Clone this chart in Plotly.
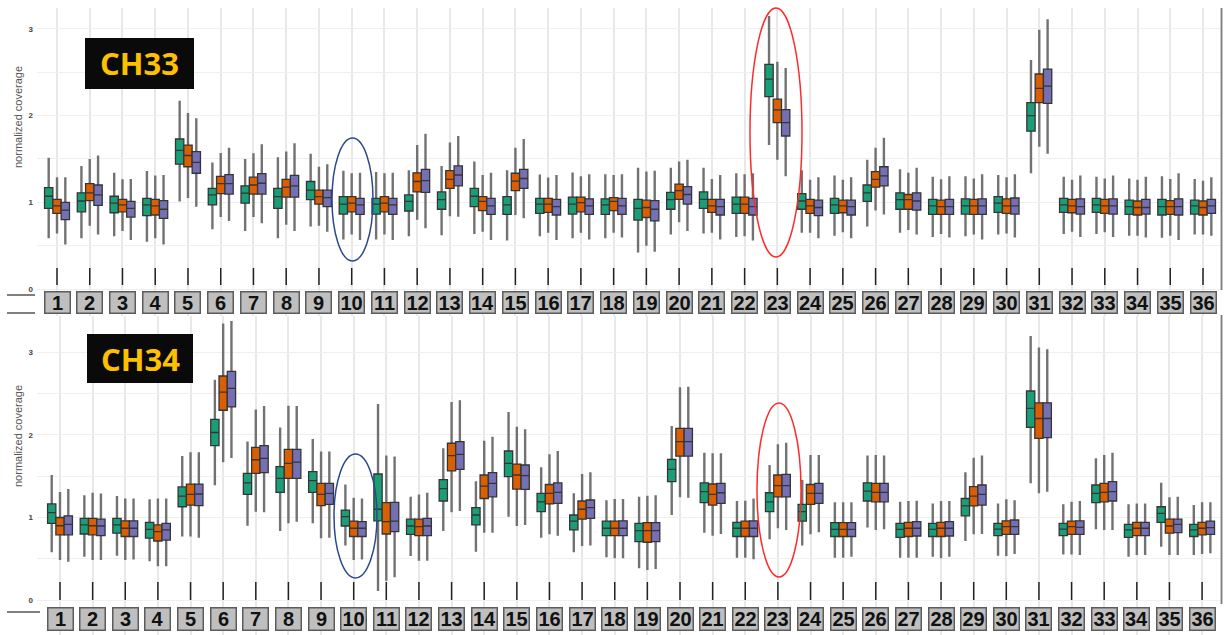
import plotly.graph_objects as go

# ---------------------------------------------------------------------------
# Data: normalized coverage per group (lower whisker, Q1, median, Q3, upper whisker)
# ---------------------------------------------------------------------------
groups = list(range(1, 37))
group_labels = [str(g) for g in groups]

series_colors = {"green": "#1b9e77", "orange": "#d95f02", "purple": "#7570b3"}

# ---- CH33 ----
ch33_green_lo = [0.585, 0.585, 0.61, 0.546, 1.01, 0.69, 0.67, 0.585, 0.72, 0.57, 0.57, 0.61, 0.62, 0.635, 0.56, 0.61, 0.585, 0.585, 0.42, 0.63, 0.64, 0.60, 1.66, 0.65, 0.615, 0.72, 0.65, 0.60, 0.61, 0.63, 1.335, 0.635, 0.635, 0.615, 0.59, 0.63]
ch33_green_q1 = [0.93, 0.89, 0.88, 0.846, 1.44, 0.97, 0.99, 0.93, 1.03, 0.865, 0.865, 0.90, 0.92, 0.95, 0.86, 0.873, 0.865, 0.86, 0.795, 0.92, 0.93, 0.873, 2.22, 0.92, 0.873, 1.01, 0.92, 0.86, 0.865, 0.885, 1.82, 0.885, 0.885, 0.86, 0.854, 0.865]
ch33_green_med = [1.07, 1.015, 0.99, 0.97, 1.60, 1.085, 1.105, 1.065, 1.14, 0.98, 0.98, 1.01, 1.03, 1.07, 0.97, 0.98, 0.98, 0.97, 0.93, 1.03, 1.035, 0.98, 2.42, 1.015, 0.97, 1.11, 1.03, 0.96, 0.96, 0.99, 2.0, 0.97, 0.97, 0.95, 0.95, 0.96]
ch33_green_q3 = [1.17, 1.11, 1.07, 1.045, 1.73, 1.16, 1.19, 1.16, 1.24, 1.065, 1.045, 1.085, 1.12, 1.16, 1.065, 1.045, 1.06, 1.04, 1.035, 1.115, 1.12, 1.06, 2.59, 1.10, 1.045, 1.20, 1.11, 1.035, 1.04, 1.065, 2.15, 1.045, 1.045, 1.025, 1.035, 1.025]
ch33_green_hi = [1.515, 1.42, 1.34, 1.36, 2.17, 1.46, 1.50, 1.52, 1.56, 1.365, 1.35, 1.37, 1.42, 1.47, 1.37, 1.32, 1.345, 1.325, 1.40, 1.40, 1.40, 1.335, 3.15, 1.37, 1.31, 1.49, 1.38, 1.295, 1.30, 1.315, 2.64, 1.295, 1.295, 1.275, 1.30, 1.27]

ch33_orange_lo = [0.64, 0.73, 0.67, 0.585, 1.05, 0.83, 0.83, 0.74, 0.73, 0.63, 0.63, 0.80, 0.84, 0.66, 0.855, 0.65, 0.65, 0.65, 0.50, 0.77, 0.65, 0.61, 1.49, 0.65, 0.655, 0.905, 0.68, 0.635, 0.63, 0.64, 1.64, 0.66, 0.655, 0.615, 0.615, 0.63]
ch33_orange_q1 = [0.873, 1.02, 0.89, 0.854, 1.41, 1.10, 1.095, 1.06, 0.98, 0.89, 0.89, 1.12, 1.16, 0.905, 1.135, 0.885, 0.89, 0.905, 0.825, 1.035, 0.885, 0.873, 1.92, 0.873, 0.88, 1.175, 0.92, 0.86, 0.86, 0.873, 2.15, 0.88, 0.873, 0.854, 0.86, 0.854]
ch33_orange_med = [0.96, 1.11, 0.97, 0.96, 1.54, 1.215, 1.20, 1.175, 1.065, 0.99, 0.99, 1.24, 1.265, 1.01, 1.245, 0.98, 0.996, 1.01, 0.94, 1.135, 0.96, 0.98, 2.065, 0.96, 0.96, 1.265, 1.03, 0.95, 0.96, 0.96, 2.315, 0.96, 0.96, 0.94, 0.95, 0.94]
ch33_orange_q3 = [1.035, 1.215, 1.035, 1.035, 1.66, 1.30, 1.29, 1.265, 1.14, 1.065, 1.065, 1.34, 1.365, 1.065, 1.335, 1.045, 1.06, 1.055, 1.025, 1.21, 1.035, 1.06, 2.19, 1.035, 1.025, 1.355, 1.09, 1.025, 1.035, 1.04, 2.48, 1.035, 1.035, 1.015, 1.02, 1.015]
ch33_orange_hi = [1.29, 1.50, 1.265, 1.31, 2.03, 1.57, 1.565, 1.585, 1.41, 1.335, 1.335, 1.66, 1.69, 1.315, 1.63, 1.285, 1.30, 1.315, 1.355, 1.47, 1.27, 1.325, 2.62, 1.26, 1.26, 1.63, 1.34, 1.265, 1.275, 1.29, 2.99, 1.26, 1.275, 1.26, 1.27, 1.25]

ch33_purple_lo = [0.515, 0.63, 0.565, 0.515, 0.95, 0.785, 0.76, 0.67, 0.66, 0.565, 0.565, 0.70, 0.835, 0.565, 0.815, 0.565, 0.57, 0.595, 0.43, 0.67, 0.57, 0.56, 1.30, 0.585, 0.585, 0.86, 0.63, 0.595, 0.57, 0.595, 1.56, 0.60, 0.60, 0.595, 0.565, 0.615]
ch33_purple_q1 = [0.80, 0.965, 0.83, 0.815, 1.335, 1.095, 1.095, 1.06, 0.95, 0.86, 0.86, 1.115, 1.19, 0.86, 1.16, 0.854, 0.86, 0.86, 0.785, 0.98, 0.854, 0.854, 1.765, 0.846, 0.854, 1.19, 0.91, 0.86, 0.86, 0.865, 2.14, 0.865, 0.865, 0.865, 0.854, 0.873]
ch33_purple_med = [0.91, 1.085, 0.93, 0.92, 1.46, 1.215, 1.22, 1.19, 1.055, 0.97, 0.97, 1.25, 1.315, 0.96, 1.275, 0.95, 0.96, 0.96, 0.92, 1.09, 0.95, 0.95, 1.92, 0.94, 0.95, 1.305, 1.015, 0.95, 0.96, 0.96, 2.34, 0.95, 0.96, 0.94, 0.95, 0.96]
ch33_purple_q3 = [1.0, 1.20, 1.01, 1.02, 1.585, 1.32, 1.33, 1.31, 1.14, 1.045, 1.045, 1.38, 1.42, 1.045, 1.38, 1.035, 1.04, 1.045, 1.02, 1.18, 1.035, 1.045, 2.07, 1.025, 1.025, 1.41, 1.11, 1.035, 1.04, 1.05, 2.535, 1.04, 1.04, 1.035, 1.04, 1.035]
ch33_purple_hi = [1.29, 1.54, 1.27, 1.315, 1.97, 1.63, 1.67, 1.68, 1.44, 1.34, 1.34, 1.79, 1.765, 1.34, 1.73, 1.315, 1.325, 1.325, 1.365, 1.49, 1.315, 1.335, 2.55, 1.29, 1.29, 1.745, 1.40, 1.30, 1.325, 1.325, 3.11, 1.31, 1.31, 1.295, 1.335, 1.29]

# ---- CH34 ----
ch34_green_lo = [0.58, 0.525, 0.537, 0.47, 0.77, 1.39, 0.90, 0.836, 0.93, 0.66, 0.11, 0.533, 0.836, 0.586, 1.01, 0.755, 0.578, 0.517, 0.384, 1.03, 0.816, 0.513, 0.735, 0.66, 0.513, 0.88, 0.513, 0.525, 0.715, 0.537, 1.414, 0.553, 0.857, 0.525, 0.646, 0.545]
ch34_green_q1 = [0.93, 0.80, 0.81, 0.75, 1.13, 1.87, 1.28, 1.305, 1.305, 0.897, 0.96, 0.796, 1.20, 0.91, 1.495, 1.07, 0.85, 0.78, 0.707, 1.434, 1.18, 0.77, 1.07, 0.957, 0.77, 1.20, 0.76, 0.77, 1.02, 0.78, 2.093, 0.78, 1.18, 0.76, 0.94, 0.77]
ch34_green_med = [1.06, 0.91, 0.91, 0.857, 1.26, 2.03, 1.42, 1.475, 1.446, 1.01, 1.10, 0.897, 1.35, 1.03, 1.657, 1.19, 0.957, 0.87, 0.84, 1.584, 1.313, 0.87, 1.19, 1.07, 0.857, 1.32, 0.857, 0.857, 1.14, 0.86, 2.323, 0.86, 1.293, 0.85, 1.05, 0.85]
ch34_green_q3 = [1.165, 0.99, 0.99, 0.94, 1.37, 2.19, 1.535, 1.616, 1.555, 1.09, 1.527, 0.98, 1.46, 1.12, 1.806, 1.293, 1.03, 0.957, 0.93, 1.705, 1.42, 0.94, 1.30, 1.16, 0.937, 1.42, 0.93, 0.93, 1.23, 0.93, 2.533, 0.93, 1.394, 0.917, 1.13, 0.917]
ch34_green_hi = [1.515, 1.27, 1.26, 1.22, 1.745, 2.67, 1.92, 2.09, 1.95, 1.40, 2.376, 1.25, 1.84, 1.44, 2.28, 1.61, 1.293, 1.21, 1.25, 2.11, 1.786, 1.20, 1.636, 1.455, 1.184, 1.75, 1.19, 1.17, 1.547, 1.17, 3.20, 1.16, 1.717, 1.16, 1.42, 1.15]

ch34_orange_lo = [0.485, 0.485, 0.485, 0.41, 0.77, 1.67, 1.07, 0.93, 0.75, 0.485, 0.234, 0.477, 1.063, 0.816, 0.897, 0.796, 0.655, 0.505, 0.364, 1.244, 0.78, 0.513, 0.87, 0.796, 0.513, 0.85, 0.513, 0.505, 0.796, 0.533, 1.293, 0.553, 0.85, 0.545, 0.545, 0.557]
ch34_orange_q1 = [0.79, 0.79, 0.77, 0.715, 1.15, 2.30, 1.535, 1.475, 1.143, 0.77, 0.80, 0.78, 1.564, 1.23, 1.345, 1.164, 0.98, 0.78, 0.70, 1.745, 1.15, 0.77, 1.25, 1.16, 0.77, 1.19, 0.77, 0.77, 1.14, 0.796, 1.96, 0.796, 1.19, 0.78, 0.81, 0.79]
ch34_orange_med = [0.90, 0.90, 0.87, 0.83, 1.28, 2.52, 1.70, 1.657, 1.28, 0.87, 0.95, 0.89, 1.75, 1.38, 1.515, 1.293, 1.10, 0.87, 0.84, 1.92, 1.28, 0.87, 1.386, 1.293, 0.857, 1.305, 0.87, 0.87, 1.26, 0.89, 2.20, 0.89, 1.305, 0.87, 0.897, 0.87]
ch34_orange_q3 = [1.0, 0.99, 0.96, 0.91, 1.405, 2.715, 1.85, 1.826, 1.414, 0.957, 1.18, 0.98, 1.90, 1.515, 1.648, 1.40, 1.20, 0.957, 0.937, 2.08, 1.406, 0.957, 1.515, 1.40, 0.937, 1.414, 0.94, 0.94, 1.374, 0.96, 2.39, 0.957, 1.414, 0.94, 0.98, 0.94]
ch34_orange_hi = [1.31, 1.30, 1.23, 1.23, 1.79, 3.35, 2.31, 2.355, 1.80, 1.24, 1.75, 1.28, 2.40, 1.93, 2.10, 1.766, 1.527, 1.224, 1.265, 2.58, 1.778, 1.204, 1.887, 1.757, 1.184, 1.757, 1.20, 1.20, 1.725, 1.22, 3.06, 1.19, 1.757, 1.17, 1.244, 1.184]

ch34_purple_lo = [0.465, 0.485, 0.49, 0.41, 0.755, 1.72, 1.063, 0.95, 0.755, 0.49, 0.275, 0.477, 1.08, 0.816, 0.91, 0.78, 0.66, 0.505, 0.376, 1.24, 0.80, 0.493, 0.85, 0.82, 0.525, 0.857, 0.513, 0.525, 0.80, 0.557, 1.313, 0.545, 0.85, 0.545, 0.545, 0.566]
ch34_purple_q1 = [0.79, 0.78, 0.77, 0.727, 1.143, 2.34, 1.543, 1.475, 1.16, 0.77, 0.83, 0.78, 1.584, 1.25, 1.34, 1.17, 0.99, 0.78, 0.707, 1.745, 1.17, 0.77, 1.25, 1.17, 0.77, 1.19, 0.776, 0.776, 1.15, 0.796, 1.968, 0.796, 1.20, 0.78, 0.816, 0.796]
ch34_purple_med = [0.917, 0.897, 0.87, 0.85, 1.285, 2.565, 1.717, 1.67, 1.293, 0.87, 0.957, 0.897, 1.766, 1.414, 1.507, 1.305, 1.12, 0.87, 0.84, 1.92, 1.30, 0.87, 1.386, 1.293, 0.857, 1.305, 0.87, 0.87, 1.28, 0.89, 2.20, 0.88, 1.313, 0.87, 0.917, 0.877]
ch34_purple_q3 = [1.02, 0.98, 0.96, 0.93, 1.405, 2.77, 1.87, 1.826, 1.414, 0.95, 1.184, 0.99, 1.92, 1.543, 1.636, 1.42, 1.212, 0.96, 0.937, 2.08, 1.414, 0.96, 1.523, 1.414, 0.937, 1.414, 0.95, 0.95, 1.394, 0.97, 2.39, 0.96, 1.434, 0.94, 0.98, 0.957]
ch34_purple_hi = [1.345, 1.29, 1.23, 1.23, 1.79, 3.38, 2.35, 2.35, 1.80, 1.23, 1.74, 1.30, 2.42, 1.98, 2.07, 1.806, 1.547, 1.224, 1.27, 2.586, 1.778, 1.23, 1.907, 1.757, 1.184, 1.75, 1.204, 1.20, 1.75, 1.21, 3.04, 1.20, 1.786, 1.17, 1.25, 1.184]

panels = [
    {
        "name": "CH33",
        "series": {
            "green": (ch33_green_lo, ch33_green_q1, ch33_green_med, ch33_green_q3, ch33_green_hi),
            "orange": (ch33_orange_lo, ch33_orange_q1, ch33_orange_med, ch33_orange_q3, ch33_orange_hi),
            "purple": (ch33_purple_lo, ch33_purple_q1, ch33_purple_med, ch33_purple_q3, ch33_purple_hi),
        },
    },
    {
        "name": "CH34",
        "series": {
            "green": (ch34_green_lo, ch34_green_q1, ch34_green_med, ch34_green_q3, ch34_green_hi),
            "orange": (ch34_orange_lo, ch34_orange_q1, ch34_orange_med, ch34_orange_q3, ch34_orange_hi),
            "purple": (ch34_purple_lo, ch34_purple_q1, ch34_purple_med, ch34_purple_q3, ch34_purple_hi),
        },
    },
]

# ---------------------------------------------------------------------------
# Layout geometry (pixels of the 1227 x 635 canvas)
# ---------------------------------------------------------------------------
W, H = 1227, 635


def fx(px):
    return px / W


def fy(py):
    return 1 - py / H


geom = [
    # top panel
    dict(xa="x", ya="y", xrange=[0.389, 36.58], yrange=[-0.311, 3.241],
         ydom=[fy(316), fy(8)], tick_y=(268, 285), lab_y=302.5, lab_h=20, lab_w=24,
         title_y=117, ch_box=(85, 38, 194, 89),
         blue=(332, 138, 373, 261), red=(750, 8, 802, 257)),
    # bottom panel
    dict(xa="x2", ya="y2", xrange=[0.295, 36.61], yrange=[-0.424, 3.442],
         ydom=[0, fy(316)], tick_y=(582, 600), lab_y=619, lab_h=21, lab_w=24,
         title_y=436, ch_box=(87, 334, 193, 383),
         blue=(334, 454, 377, 578), red=(757, 403, 801, 577)),
]

BOX_W = 0.254
offsets = {"green": -BOX_W, "orange": 0.0, "purple": BOX_W}

fig = go.Figure()

for panel, g in zip(panels, geom):
    # whiskers first (gray, drawn under the boxes)
    for sname, (lo, q1, med, q3, hi) in panel["series"].items():
        xs = [grp + offsets[sname] for grp in groups]
        fig.add_trace(go.Box(
            x=xs, q1=med, median=med, q3=med, lowerfence=lo, upperfence=hi,
            width=0.02, whiskerwidth=0, boxpoints=False,
            line=dict(color="#727272", width=2.4), fillcolor="rgba(0,0,0,0)",
            xaxis=g["xa"], yaxis=g["ya"], showlegend=False, hoverinfo="skip",
        ))
    # boxes with median line
    for sname, (lo, q1, med, q3, hi) in panel["series"].items():
        xs = [grp + offsets[sname] for grp in groups]
        fig.add_trace(go.Box(
            x=xs, q1=q1, median=med, q3=q3, lowerfence=q1, upperfence=q3,
            width=BOX_W, whiskerwidth=0, boxpoints=False,
            line=dict(color="#353535", width=1.3), fillcolor=series_colors[sname],
            xaxis=g["xa"], yaxis=g["ya"], showlegend=False, name=sname,
        ))

shapes = []
annotations = []

for panel, g in zip(panels, geom):
    # small tick marks above the group labels
    for grp in groups:
        shapes.append(dict(type="line", xref=g["xa"], yref="paper",
                           x0=grp, x1=grp, y0=fy(g["tick_y"][0]), y1=fy(g["tick_y"][1]),
                           line=dict(color="#222222", width=1.5), layer="above"))
        annotations.append(dict(
            xref=g["xa"], yref="paper", x=grp, y=fy(g["lab_y"]),
            text=str(grp), showarrow=False,
            font=dict(family="Liberation Sans, Arial, sans-serif", size=20,
                      color="#111111", weight="bold"),
            bgcolor="#bfbfbf", bordercolor="#5c5c5c", borderwidth=1.5, borderpad=0,
            width=g["lab_w"], height=g["lab_h"], xanchor="center", yanchor="middle",
        ))
    # panel name badge
    x0, y0, x1, y1 = g["ch_box"]
    shapes.append(dict(type="rect", xref="paper", yref="paper",
                       x0=fx(x0), x1=fx(x1), y0=fy(y1), y1=fy(y0),
                       fillcolor="#0a0a0a", line=dict(width=0), layer="above"))
    annotations.append(dict(
        xref="paper", yref="paper", x=fx((x0 + x1) / 2), y=fy((y0 + y1) / 2),
        text=panel["name"], showarrow=False, xanchor="center", yanchor="middle",
        font=dict(family="Open Sans, sans-serif", size=31, color="#ffc000", weight="bold"),
    ))
    # y-axis title
    annotations.append(dict(
        xref="paper", yref="paper", x=fx(18), y=fy(g["title_y"]),
        text="normalized coverage", showarrow=False, textangle=-90,
        xanchor="center", yanchor="middle",
        font=dict(family="Liberation Sans Narrow, Liberation Sans, Arial, sans-serif",
                  size=11, color="#555555"),
    ))
    # highlight ellipses
    for key, col in (("blue", "#2b4a8b"), ("red", "#ff2a2a")):
        ex0, ey0, ex1, ey1 = g[key]
        shapes.append(dict(type="circle", xref="paper", yref="paper",
                           x0=fx(ex0), x1=fx(ex1), y0=fy(ey1), y1=fy(ey0),
                           line=dict(color=col, width=1.5), layer="above"))

# left-side rule fragments and right-hand frame lines
for (lx0, lx1, ly) in ((7, 35, 295), (7, 35, 313), (7, 40, 612)):
    shapes.append(dict(type="line", xref="paper", yref="paper",
                       x0=fx(lx0), x1=fx(lx1), y0=fy(ly), y1=fy(ly),
                       line=dict(color="#555555", width=1.5)))
for (ry0, ry1) in ((8, 290), (315, 604)):
    shapes.append(dict(type="line", xref="paper", yref="paper",
                       x0=fx(1221.5), x1=fx(1221.5), y0=fy(ry0), y1=fy(ry1),
                       line=dict(color="#7a7a7a", width=1.8)))

ytick_vals = [0, 0.5, 1, 1.5, 2, 2.5, 3]
ytick_text = ["0", "", "1", "", "2", "", "3"]

axis_common_x = dict(
    tickvals=groups, ticktext=group_labels, showticklabels=False, ticks="",
    showgrid=True, gridcolor="#e8e8e8", gridwidth=1.6, zeroline=False,
    showline=False, domain=[fx(37), fx(1222)],
)
axis_common_y = dict(
    tickvals=ytick_vals, ticktext=ytick_text, ticks="",
    showgrid=True, gridcolor="#efefef", gridwidth=1.4, zeroline=False,
    showline=False, tickfont=dict(family="Liberation Sans, Arial, sans-serif",
                                  size=8, color="#444444", weight="bold"),
    ticklabelstandoff=3,
)

fig.update_layout(
    width=W, height=H, autosize=False,
    margin=dict(l=0, r=0, t=0, b=0),
    paper_bgcolor="white", plot_bgcolor="white",
    boxmode="overlay", showlegend=False,
    xaxis=dict(axis_common_x, range=geom[0]["xrange"], anchor="y"),
    yaxis=dict(axis_common_y, range=geom[0]["yrange"], domain=geom[0]["ydom"], anchor="x"),
    xaxis2=dict(axis_common_x, range=geom[1]["xrange"], anchor="y2"),
    yaxis2=dict(axis_common_y, range=geom[1]["yrange"], domain=geom[1]["ydom"], anchor="x2"),
    shapes=shapes,
    annotations=annotations,
)

fig.write_html("out.html")
